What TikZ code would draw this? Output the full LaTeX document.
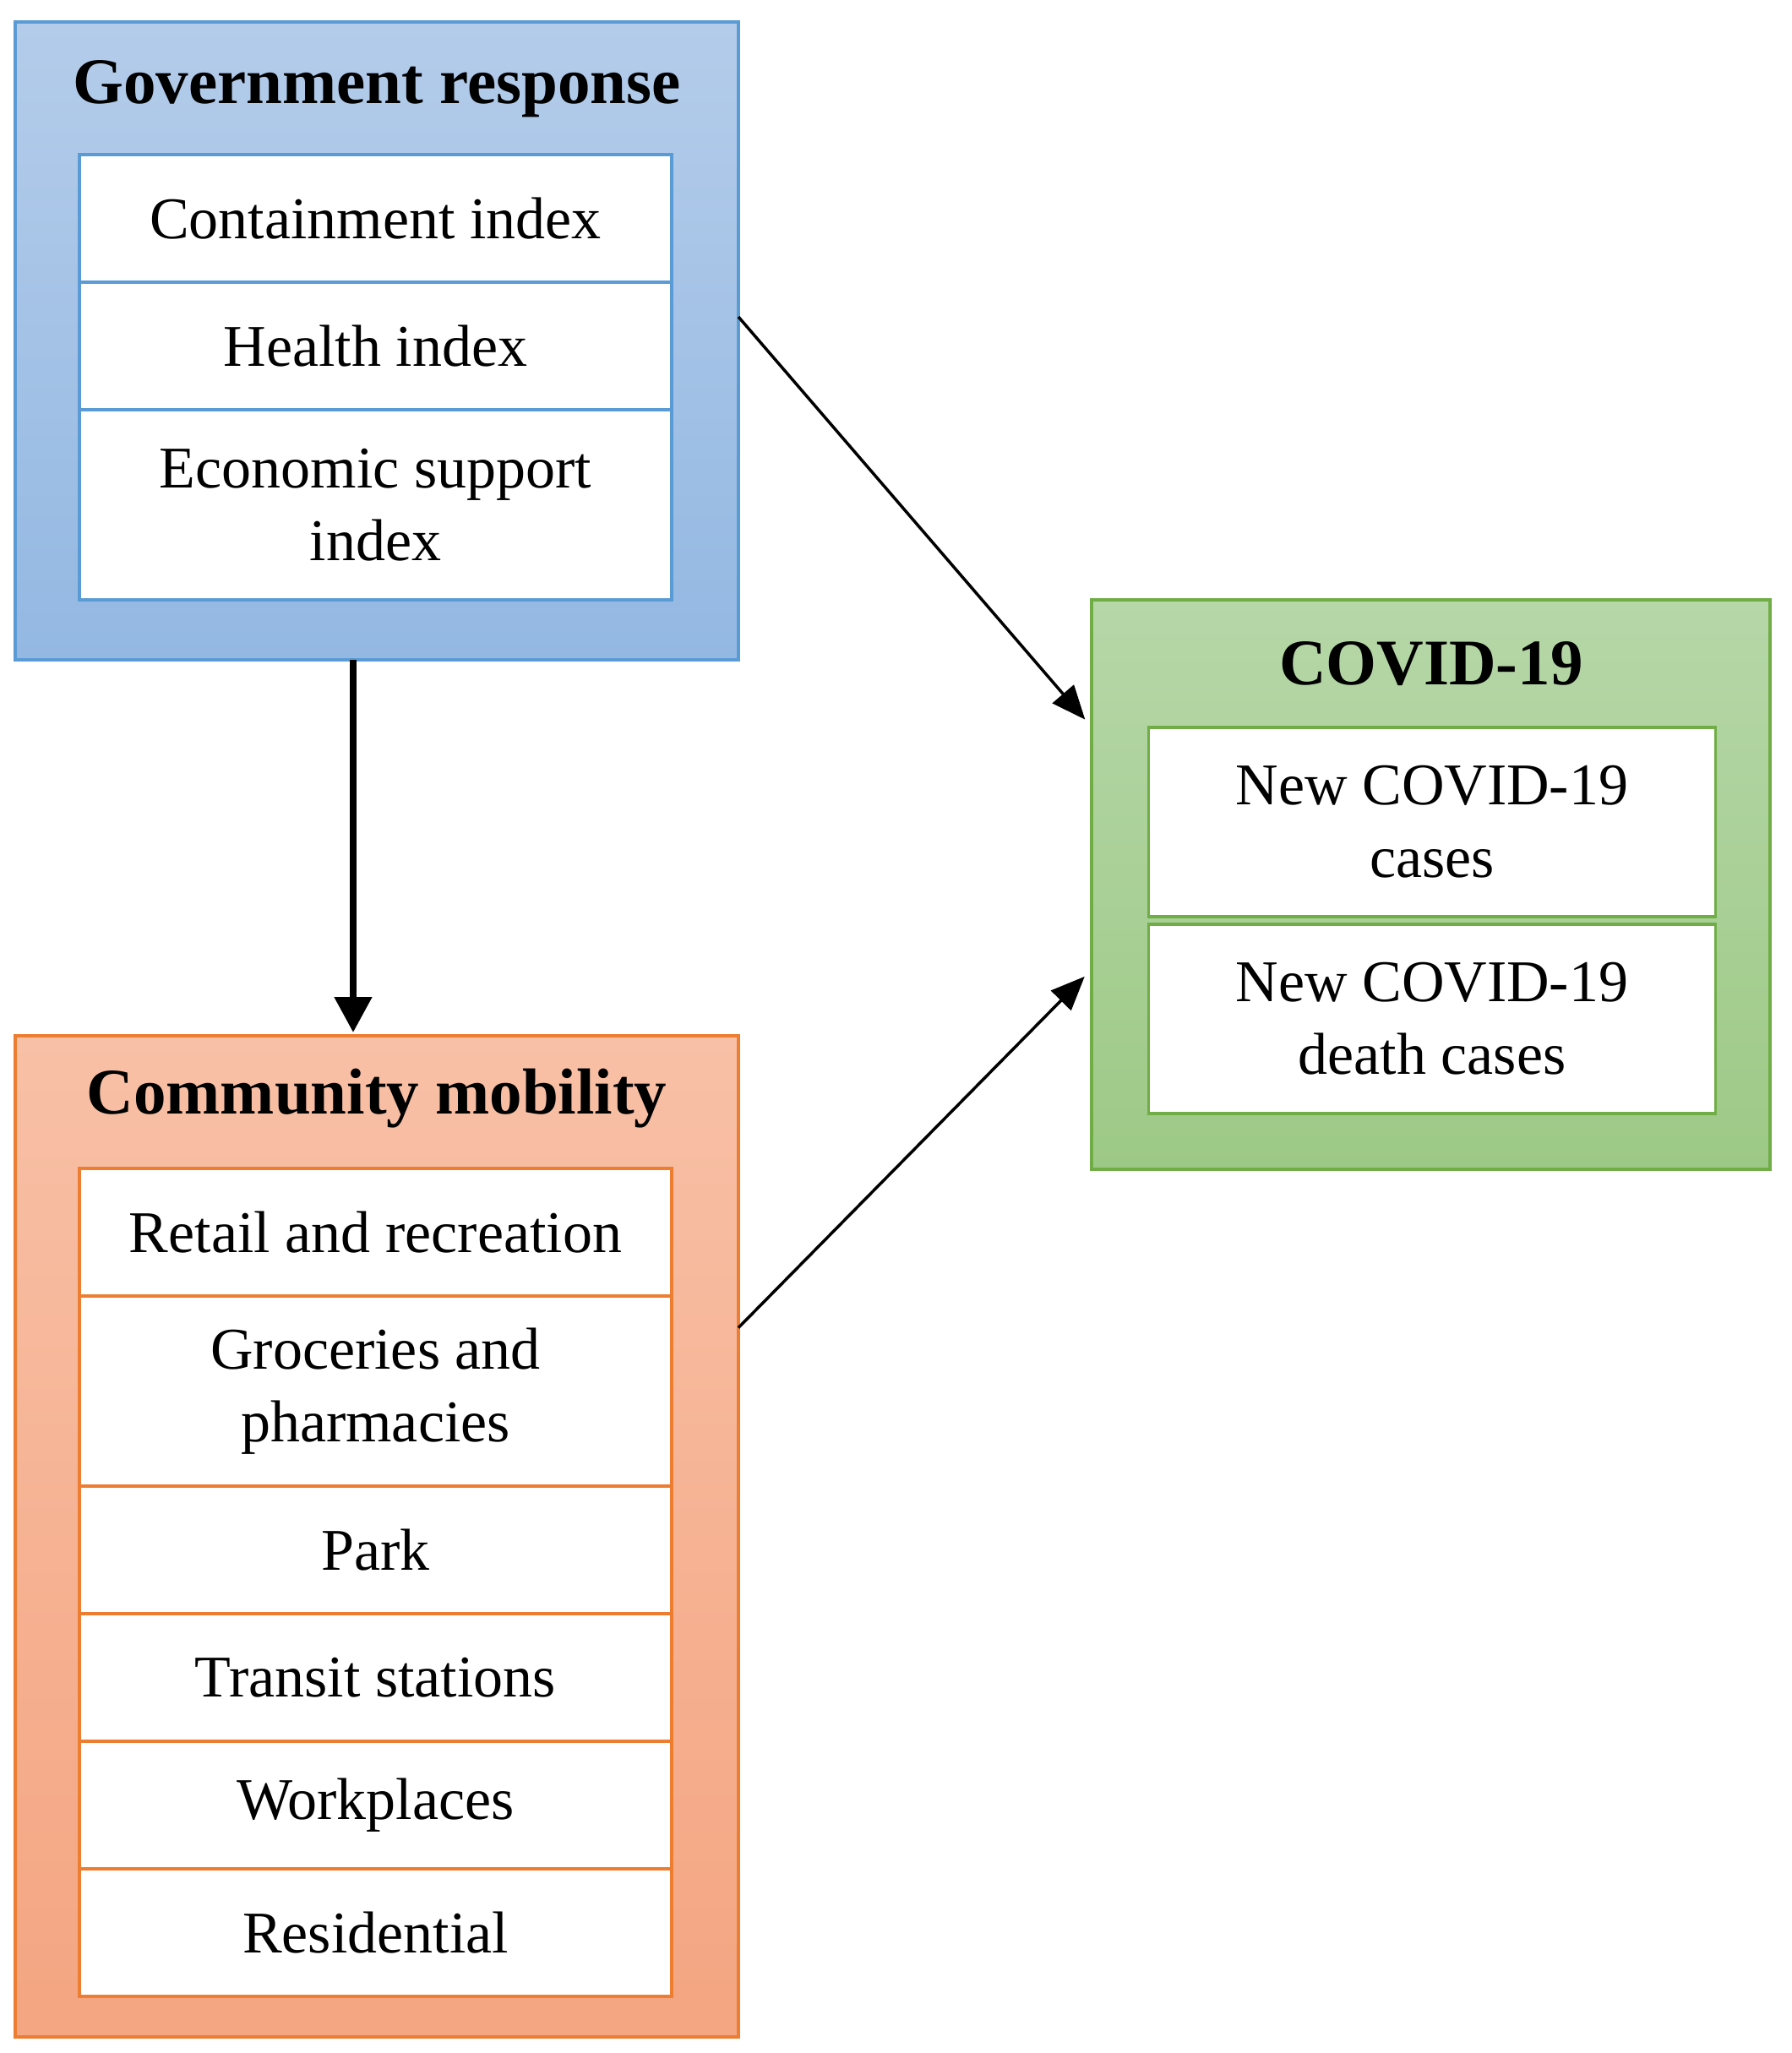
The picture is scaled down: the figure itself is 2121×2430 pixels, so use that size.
\documentclass[tikz,border=0pt]{standalone}
\usepackage{fontspec}
\setmainfont{Liberation Serif}
\usetikzlibrary{
  arrows.meta,
  positioning
}
\definecolor{govblue}{RGB}{91,155,213}
\definecolor{govtop}{RGB}{180,204,234}
\definecolor{govbottom}{RGB}{147,184,226}
\definecolor{mobiorange}{RGB}{237,125,49}
\definecolor{mobitop}{RGB}{248,192,166}
\definecolor{mobibottom}{RGB}{244,165,129}
\definecolor{covidgreen}{RGB}{112,173,71}
\definecolor{covidtop}{RGB}{182,215,168}
\definecolor{covidbottom}{RGB}{157,201,134}
\tikzset{
  panel/.style={draw=#1, line width=0.8pt, inner sep=0pt, outer sep=0pt},
  paneltitle/.style={font=\fontsize{15.4}{18}\selectfont\bfseries, anchor=base},
  item/.style={draw=#1, fill=white, line width=0.75pt, minimum width=140.2pt,
    minimum height=30.2pt, inner sep=0pt, outer sep=0pt, align=center,
    font=\fontsize{14}{17.2}\selectfont},
  tallitem/.style={item=#1, minimum height=45pt},
  thinarrow/.style={line width=0.7pt, -{Triangle[length=8pt,width=6.6pt]}},
  thickarrow/.style={line width=1.6pt, -{Triangle[length=8.4pt,width=8.6pt]}}
}

\begin{document}
\begin{tikzpicture}[x=0.2pt, y=-0.2pt]
  \useasboundingbox (0,0) rectangle (2121,2430);

  % Government response
  \node[panel=govblue, top color=govtop, bottom color=govbottom,
        minimum width=171.2pt, minimum height=151pt] (gov) at (446,403.5) {};
  \node[paneltitle] (govtitle) at (446,122) {Government response};
  \node[item=govblue, anchor=north] (g1) at (444.5,183) {Containment index};
  \node[item=govblue, below=0pt of g1] (g2) {Health index};
  \node[tallitem=govblue, below=0pt of g2] (g3) {Economic support\\index};

  % Community mobility
  \node[panel=mobiorange, top color=mobitop, bottom color=mobibottom,
        minimum width=171.2pt, minimum height=237pt] (mob) at (446,1818.5) {};
  \node[paneltitle] (mobtitle) at (446,1318) {Community mobility};
  \node[item=mobiorange, anchor=north] (m1) at (444.5,1383) {Retail and recreation};
  \node[tallitem=mobiorange, below=0pt of m1] (m2) {Groceries and\\pharmacies};
  \node[item=mobiorange, below=0pt of m2] (m3) {Park};
  \node[item=mobiorange, below=0pt of m3] (m4) {Transit stations};
  \node[item=mobiorange, below=0pt of m4] (m5) {Workplaces};
  \node[item=mobiorange, below=0pt of m5] (m6) {Residential};

  % COVID-19
  \node[panel=covidgreen, top color=covidtop, bottom color=covidbottom,
        minimum width=160.6pt, minimum height=134.8pt] (covid) at (1693,1047) {};
  \node[paneltitle] (covidtitle) at (1694,810) {COVID-19};
  \node[tallitem=covidgreen, minimum width=134.2pt, minimum height=44.8pt,
        anchor=north] (c1) at (1695,861) {New COVID-19\\cases};
  \node[tallitem=covidgreen, minimum width=134.2pt, minimum height=44.8pt,
        below=1.8pt of c1] (c2) {New COVID-19\\death cases};

  % Connectors
  \draw[thickarrow, shorten >=0.8pt] ([xshift=-5.6pt]gov.south) -- ([xshift=-5.6pt]mob.north);
  \draw[thinarrow, shorten >=2.2pt] ([yshift=5.7pt]gov.east) -- ([yshift=37.4pt]covid.west);
  \draw[thinarrow, shorten >=2.2pt] ([yshift=49.4pt]mob.east) -- ([yshift=-20.2pt]covid.west);

\end{tikzpicture}
\end{document}
